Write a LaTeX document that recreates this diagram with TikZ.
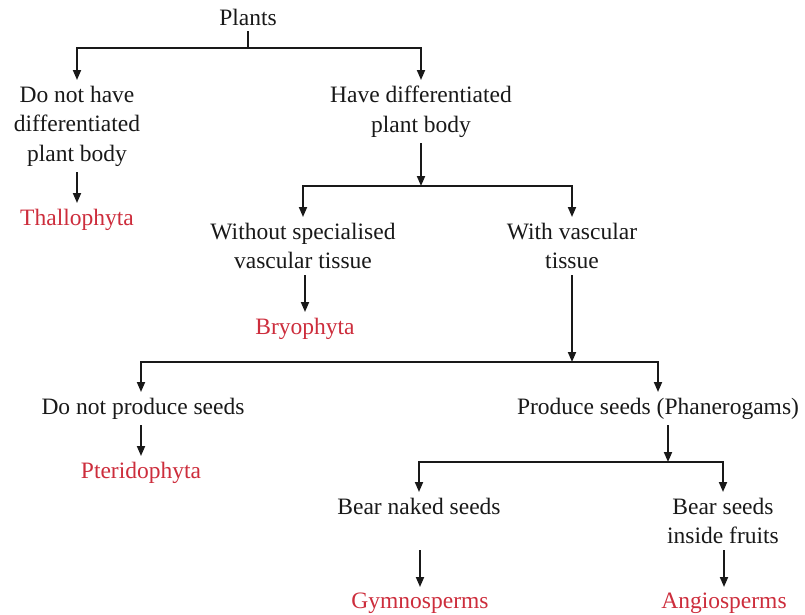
\documentclass[tikz,border=0pt]{standalone}
\usepackage{fontspec}
\setmainfont{Liberation Serif}
\usetikzlibrary{arrows.meta}
\definecolor{taxred}{RGB}{205,45,60}
\definecolor{linec}{RGB}{25,25,25}
\begin{document}
\begin{tikzpicture}[x=1pt,y=-1pt,
  lbl/.style={inner sep=0pt,outer sep=6pt,align=center,text=linec,
    font=\fontsize{23.5}{29.5}\selectfont},
  taxon/.style={lbl,text=taxred},
  arr/.style={draw=linec,line width=1.8pt,-{Triangle[length=10pt,width=8pt]}},
  ln/.style={draw=linec,line width=1.8pt}]
\useasboundingbox[fill=white] (0,0) rectangle (805,614);
% nodes
\node[lbl] (plants) at (248,17) {Plants};
\coordinate (j1) at (248,48);
\node[lbl,anchor=north] (n1) at (77,80) {Do not have\\differentiated\\plant body};
\node[lbl,anchor=north] (n2) at (421,80) {Have differentiated\\plant body};
\node[taxon,anchor=north] (thallo) at (77,203) {Thallophyta};
\coordinate (j2) at (421,186);
\node[lbl,anchor=north] (n3) at (303,217) {Without specialised\\vascular tissue};
\node[lbl,anchor=north] (n4) at (572,217) {With vascular\\tissue};
\node[taxon,anchor=north] (bryo) at (305,312) {Bryophyta};
\coordinate (j3) at (572,362);
\node[lbl,anchor=north] (n5) at (143,392) {Do not produce seeds};
\node[lbl,anchor=north] (n6) at (658,392) {Produce seeds (Phanerogams)};
\node[taxon,anchor=north] (pterido) at (141,456) {Pteridophyta};
\coordinate (j4) at (668,462);
\node[lbl,anchor=north] (n7) at (419,492) {Bear naked seeds};
\node[lbl,anchor=north] (n8) at (723,492) {Bear seeds\\inside fruits};
\node[taxon,anchor=north] (gymno) at (420,587) {Gymnosperms};
\node[taxon,anchor=north] (angio) at (724,587) {Angiosperms};
% connectors
\draw[ln] (plants.south) -- (j1);
\draw[arr] (j1) -| (n1.north);
\draw[arr] (j1) -| (n2.north);
\draw[arr] (n1.south) -- (thallo.north);
\draw[arr] (n2.south) -- (j2);
\draw[arr] (j2) -| (n3.north);
\draw[arr] (j2) -| (n4.north);
\draw[arr] (n3.south -| bryo.north) -- (bryo.north);
\draw[arr] (n4.south) -- (j3);
\draw[arr] (j3) -| (n5.north -| pterido.north);
\draw[arr] (j3) -| (n6.north);
\draw[arr] (n5.south -| pterido.north) -- (pterido.north);
\draw[arr] (n6.south -| j4) -- (j4);
\draw[arr] (j4) -| (n7.north);
\draw[arr] (j4) -| (n8.north);
\draw[arr] (n8.south -| gymno.north) -- (gymno.north);
\draw[arr] (n8.south -| angio.north) -- (angio.north);
\end{tikzpicture}
\end{document}
